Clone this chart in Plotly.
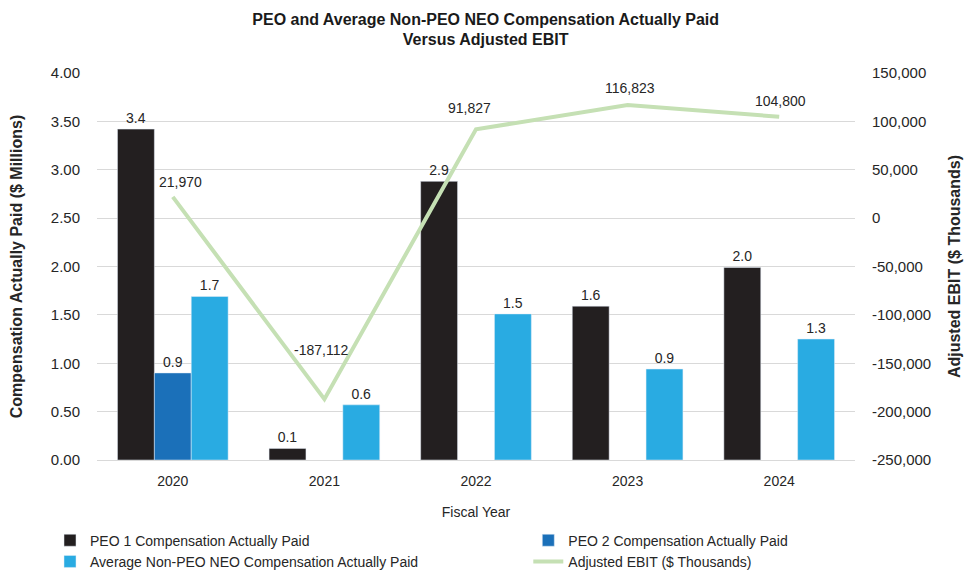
import plotly.graph_objects as go

years = ["2020", "2021", "2022", "2023", "2024"]
peo1 = [3.42, 0.12, 2.88, 1.59, 1.99]
peo2 = [0.90, None, None, None, None]
non_peo = [1.69, 0.57, 1.51, 0.94, 1.25]
ebit = [21970, -187112, 91827, 116823, 104800]
ebit_ticks = [-250000, -200000, -150000, -100000, -50000, 0, 50000, 100000, 150000]

FONT = "Liberation Sans Narrow, Arial Narrow, Liberation Sans, Arial, sans-serif"
BOLD = "Liberation Sans, Arial, sans-serif"
TXT = "#262626"

fig = go.Figure()
fig.add_trace(go.Bar(x=years, y=peo1, name="PEO 1 Compensation Actually Paid",
                     marker_color="#231f20", texttemplate="%{y:.1f}", textposition="outside",
                     textfont=dict(size=14, color=TXT, family=FONT), cliponaxis=False,
                     legend="legend"))
fig.add_trace(go.Bar(x=years, y=peo2, name="PEO 2 Compensation Actually Paid",
                     marker_color="#1b70b9", texttemplate="%{y:.1f}", textposition="outside",
                     textfont=dict(size=14, color=TXT, family=FONT), cliponaxis=False,
                     legend="legend2"))
fig.add_trace(go.Bar(x=years, y=non_peo, name="Average Non-PEO NEO Compensation Actually Paid",
                     marker_color="#29abe2", texttemplate="%{y:.1f}", textposition="outside",
                     textfont=dict(size=14, color=TXT, family=FONT), cliponaxis=False,
                     legend="legend"))
fig.add_trace(go.Scatter(x=years, y=ebit, name="Adjusted EBIT ($ Thousands)", yaxis="y2",
                         mode="lines", line=dict(color="#c5e0b4", width=4), cliponaxis=False,
                         legend="legend2"))

# label offsets (pixels) for the EBIT value labels
label_shift = [(8, 15), (-3, 49), (-7, 21), (2, 17), (1, 16)]
for i, (yv, (dx, dy)) in enumerate(zip(ebit, label_shift)):
    # category axes take the serial index of the category for annotation positions
    fig.add_annotation(x=i, xref="x", y=yv, yref="y2", text=f"{yv:,}", showarrow=False,
                       xshift=dx, yshift=dy, font=dict(size=14, color=TXT, family=FONT))

legend_common = dict(orientation="v", xanchor="left", yanchor="top", y=-0.167,
                     font=dict(size=14, family=FONT, color=TXT), bgcolor="rgba(0,0,0,0)",
                     traceorder="normal")

# the page body adds an 8px offset, so the figure is 8px smaller than the window
fig.update_layout(
    width=965, height=569,
    margin=dict(l=89, r=118, t=65, b=117, autoexpand=False),
    paper_bgcolor="white", plot_bgcolor="white",
    font=dict(family=FONT, size=14, color=TXT),
    title=dict(text="<b>PEO and Average Non-PEO NEO Compensation Actually Paid<br>Versus Adjusted EBIT</b>",
               x=0.495, xref="container", xanchor="center", y=0.971, yref="container", yanchor="middle",
               font=dict(family=BOLD, size=16, color="#1a1a1a")),
    barmode="group", bargap=0.27, bargroupgap=0,
    showlegend=True,
    legend=dict(x=-0.062, **legend_common),
    legend2=dict(x=0.569, **legend_common),
    xaxis=dict(type="category", range=[-0.5, 4.5], autorange=False, automargin=False,
               title=dict(text="Fiscal Year", font=dict(size=14), standoff=19),
               showgrid=False, showline=True, linecolor="#d9d9d9", ticks="",
               ticklabelstandoff=8, tickfont=dict(size=14)),
    yaxis=dict(range=[0, 4], dtick=0.5, tickformat=".2f", showgrid=True, gridcolor="#d9d9d9",
               zeroline=False, ticklabelstandoff=16, tickfont=dict(size=15), automargin=False,
               title=dict(text="<b>Compensation Actually Paid ($ Millions)</b>",
                          font=dict(family=BOLD, size=16), standoff=28)),
    yaxis2=dict(range=[-250000, 150000], tickvals=ebit_ticks,
                ticktext=[f"{v:,}" for v in ebit_ticks], overlaying="y", side="right",
                showgrid=False, zeroline=False, ticklabelstandoff=16, tickfont=dict(size=15),
                automargin=False,
                title=dict(text="<b>Adjusted EBIT ($ Thousands)</b>",
                           font=dict(family=BOLD, size=16), standoff=18)),
)

fig.write_html("out.html")
